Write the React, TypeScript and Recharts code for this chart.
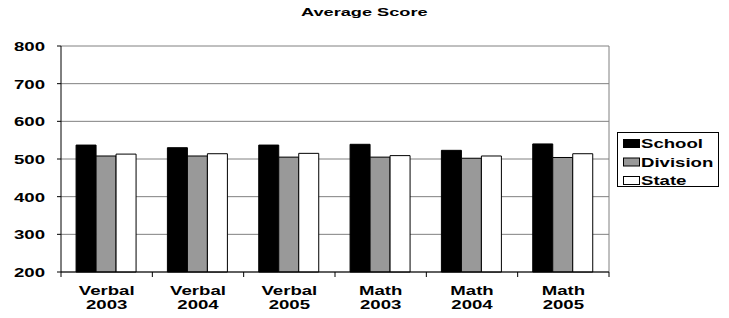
import { BarChart, Bar, XAxis, YAxis, CartesianGrid, Legend } from 'recharts';

const categories = ['Verbal 2003', 'Verbal 2004', 'Verbal 2005', 'Math 2003', 'Math 2004', 'Math 2005'];
const school = [537, 530, 537, 539, 523, 540];
const division = [508, 508, 505, 505, 502, 504];
const state = [513, 514, 515, 509, 508, 514];
const yTicks = [200, 300, 400, 500, 600, 700, 800];
const seriesNames = ['School', 'Division', 'State'];

const data = categories.map((name, i) => ({
  name,
  school: school[i],
  division: division[i],
  state: state[i],
}));

const W = 729;
const H = 318;
const MARGIN = { top: 46, right: 120, bottom: 0, left: 0 };
const Y_AXIS_W = 61;
const BAND = (W - MARGIN.right - Y_AXIS_W) / categories.length;
const FONT = '"Liberation Sans", Arial, sans-serif';
const STRETCH = 1.43;

const XTick = (props: any) => {
  const { x, y, payload, index } = props;
  const [top, bottom] = String(payload.value).split(' ');
  const half = BAND / 2;
  return (
    <g>
      <line x1={x - half} x2={x - half} y1={y} y2={y + 5} stroke="#000" />
      {index === categories.length - 1 && (
        <line x1={x + half} x2={x + half} y1={y} y2={y + 5} stroke="#000" />
      )}
      <g transform={`translate(${x},${y + 23}) scale(${STRETCH},1)`}>
        <text textAnchor="middle" fontFamily={FONT} fontWeight="bold" fontSize={13} fill="#000">
          {top}
        </text>
      </g>
      <g transform={`translate(${x},${y + 37}) scale(${STRETCH},1)`}>
        <text textAnchor="middle" fontFamily={FONT} fontWeight="bold" fontSize={13} fill="#000">
          {bottom}
        </text>
      </g>
    </g>
  );
};

const YTick = (props: any) => {
  const { x, y, payload } = props;
  return (
    <g transform={`translate(${x},${y + 5}) scale(${STRETCH},1)`}>
      <text textAnchor="end" fontFamily={FONT} fontWeight="bold" fontSize={13} fill="#000">
        {payload.value}
      </text>
    </g>
  );
};

// legend box on the right, Excel style
const LegendBox = (props: any) => {
  const items = [...(props.payload || [])].sort(
    (a: any, b: any) => seriesNames.indexOf(a.value) - seriesNames.indexOf(b.value)
  );
  return (
    <svg width={102} height={55} style={{ display: 'block' }}>
      <rect x={0.5} y={0.5} width={101} height={54} fill="#fff" stroke="#000" />
      {items.map((entry: any, i: number) => {
        const cy = 11 + i * 18.5;
        return (
          <g key={entry.value}>
            <rect x={6.5} y={cy - 3.5} width={16} height={8} fill={entry.color} stroke="#000" />
            <g transform={`translate(24,${cy + 5}) scale(${STRETCH},1)`}>
              <text fontFamily={FONT} fontWeight="bold" fontSize={13} fill="#000">
                {entry.value}
              </text>
            </g>
          </g>
        );
      })}
    </svg>
  );
};

export default function App() {
  return (
    <div style={{ position: 'absolute', left: 0, top: 0, width: W, height: H, background: '#fff' }}>
      {/* Title */}
      <div
        style={{
          position: 'absolute',
          left: 0,
          top: 5,
          width: W,
          textAlign: 'center',
          fontFamily: FONT,
          fontWeight: 'bold',
          fontSize: 11,
          lineHeight: '14px',
          color: '#000',
          zIndex: 2,
        }}
      >
        <span style={{ display: 'inline-block', transform: 'scaleX(1.65)' }}>Average Score</span>
      </div>
      <BarChart
        width={W}
        height={H}
        data={data}
        margin={MARGIN}
        barCategoryGap="16.5%"
        barGap={0}
      >
        <CartesianGrid
          stroke="#808080"
          horizontal={true}
          vertical={true}
          verticalCoordinatesGenerator={({ offset }: any) => [offset.left + offset.width]}
        />
        <XAxis
          dataKey="name"
          height={46}
          interval={0}
          tickSize={0}
          tickMargin={0}
          tickLine={false}
          axisLine={{ stroke: '#000' }}
          tick={<XTick />}
        />
        <YAxis
          width={Y_AXIS_W}
          domain={[200, 800]}
          ticks={yTicks}
          tickSize={4}
          tickMargin={12}
          axisLine={{ stroke: '#000' }}
          tickLine={{ stroke: '#000' }}
          tick={<YTick />}
        />
        <Legend
          layout="vertical"
          align="center"
          verticalAlign="middle"
          wrapperStyle={{ left: 617, top: 132, width: 102, height: 55 }}
          content={<LegendBox />}
        />
        <Bar dataKey="school" name="School" fill="#000000" stroke="#000" strokeWidth={1} isAnimationActive={false} />
        <Bar dataKey="division" name="Division" fill="#999999" stroke="#000" strokeWidth={1} isAnimationActive={false} />
        <Bar dataKey="state" name="State" fill="#ffffff" stroke="#000" strokeWidth={1} isAnimationActive={false} />
      </BarChart>
    </div>
  );
}
